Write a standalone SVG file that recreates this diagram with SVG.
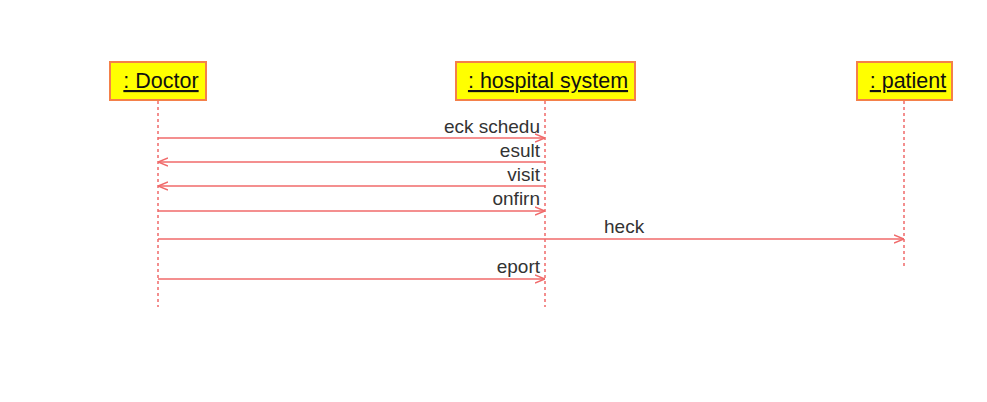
<svg xmlns="http://www.w3.org/2000/svg" width="987" height="402" viewBox="0 0 987 402">
<defs>
<style>
.box{fill:#ffff00;stroke:#f4804a;stroke-width:2}
.name{font-family:"Liberation Sans",Arial,sans-serif;font-size:21.5px;fill:#111;text-decoration:underline}
.life{stroke:#f06a6a;stroke-width:1.5;stroke-dasharray:3,3;fill:none}
.msg{stroke:#f06a6a;stroke-width:1.5;fill:none}
.lbl{font-family:"Liberation Sans",Arial,sans-serif;font-size:19px;fill:#333}
</style>
<marker id="ah" viewBox="0 0 10 10" refX="10" refY="5" markerWidth="10" markerHeight="10" markerUnits="userSpaceOnUse" orient="auto">
<path d="M0,1 L10,5 L0,9" fill="none" stroke="#f06a6a" stroke-width="1.5"/>
</marker>
</defs>
<rect width="987" height="402" fill="#ffffff"/>
<g id="doctor">
<rect class="box" x="110" y="62" width="96" height="38"/>
<text class="name" x="161" y="88" text-anchor="middle">: Doctor</text>
<line class="life" x1="158" y1="101" x2="158" y2="307"/>
</g>
<g id="hospital">
<rect class="box" x="456" y="62" width="179" height="38"/>
<text class="name" x="548" y="88" text-anchor="middle">: hospital system</text>
<line class="life" x1="545" y1="101" x2="545" y2="307"/>
</g>
<g id="patient">
<rect class="box" x="857" y="62" width="95" height="38"/>
<text class="name" x="908" y="88" text-anchor="middle">: patient</text>
<line class="life" x1="904" y1="101" x2="904" y2="268"/>
</g>
<g id="connectors">
<line class="msg" x1="158" y1="138" x2="545" y2="138" marker-end="url(#ah)"/>
<text class="lbl" x="540" y="133" text-anchor="end">eck schedu</text>
<line class="msg" x1="545" y1="162" x2="158" y2="162" marker-end="url(#ah)"/>
<text class="lbl" x="540" y="157" text-anchor="end">esult</text>
<line class="msg" x1="545" y1="186" x2="158" y2="186" marker-end="url(#ah)"/>
<text class="lbl" x="540" y="181" text-anchor="end">visit</text>
<line class="msg" x1="158" y1="211" x2="545" y2="211" marker-end="url(#ah)"/>
<text class="lbl" x="540" y="205" text-anchor="end">onfirn</text>
<line class="msg" x1="158" y1="239" x2="904" y2="239" marker-end="url(#ah)"/>
<text class="lbl" x="604" y="233">heck</text>
<line class="msg" x1="158" y1="279" x2="545" y2="279" marker-end="url(#ah)"/>
<text class="lbl" x="540" y="273" text-anchor="end">eport</text>
</g>
</svg>
